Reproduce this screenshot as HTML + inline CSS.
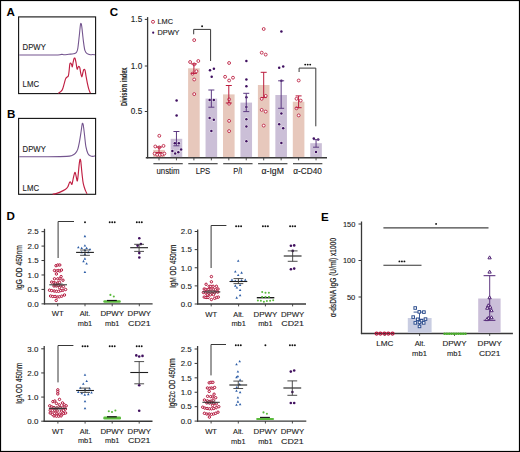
<!DOCTYPE html>
<html><head><meta charset="utf-8"><title>Figure</title>
<style>
html,body{margin:0;padding:0;background:#fff;}
body{width:520px;height:452px;overflow:hidden;}
svg{display:block;font-family:"Liberation Sans", sans-serif;}
</style></head>
<body>
<svg width="520" height="452" viewBox="0 0 520 452">
<rect x="0.5" y="0.5" width="519" height="451" fill="#fff" stroke="#000" stroke-width="1.2"/>
<text x="6.60" y="16.40" font-size="11.6" text-anchor="start" font-weight="bold" fill="#000">A</text>
<text x="6.90" y="118.10" font-size="11.6" text-anchor="start" font-weight="bold" fill="#000">B</text>
<text x="109.80" y="16.10" font-size="11.6" text-anchor="start" font-weight="bold" fill="#000">C</text>
<text x="6.50" y="219.90" font-size="11.6" text-anchor="start" font-weight="bold" fill="#000">D</text>
<text x="321.00" y="220.60" font-size="11.6" text-anchor="start" font-weight="bold" fill="#000">E</text>
<rect x="18.60" y="16.90" width="77.00" height="76.70" fill="none" stroke="#111" stroke-width="1.1"/>
<rect x="18.60" y="118.40" width="77.00" height="75.90" fill="none" stroke="#111" stroke-width="1.1"/>
<path d="M19.20,55.00 C22.67,55.00 33.53,55.00 40.00,55.00 C46.47,55.00 54.37,55.10 58.00,55.00 C61.63,54.90 60.77,54.43 61.80,54.40 C62.83,54.37 63.03,54.82 64.20,54.80 C65.37,54.78 67.27,54.47 68.80,54.30 C70.33,54.13 72.17,54.07 73.40,53.80 C74.63,53.53 75.48,53.50 76.20,52.70 C76.92,51.90 77.20,51.70 77.70,49.00 C78.20,46.30 78.75,40.50 79.20,36.50 C79.65,32.50 80.08,27.15 80.40,25.00 C80.72,22.85 80.87,23.30 81.10,23.60 C81.33,23.90 81.42,23.88 81.80,26.80 C82.18,29.72 82.88,37.18 83.40,41.10 C83.92,45.02 84.27,48.20 84.90,50.30 C85.53,52.40 86.30,52.95 87.20,53.70 C88.10,54.45 89.40,54.67 90.30,54.80 C91.20,54.93 91.82,54.50 92.60,54.50 C93.38,54.50 94.60,54.75 95.00,54.80" fill="none" stroke="#74558f" stroke-width="1.1"/>
<path d="M58.30,93.40 C58.93,92.85 61.15,91.60 62.10,90.10 C63.05,88.60 63.43,86.23 64.00,84.40 C64.57,82.57 65.02,80.30 65.50,79.10 C65.98,77.90 66.43,77.72 66.90,77.20 C67.37,76.68 67.93,77.03 68.30,76.00 C68.67,74.97 68.85,72.93 69.10,71.00 C69.35,69.07 69.53,65.73 69.80,64.40 C70.07,63.07 70.38,62.92 70.70,63.00 C71.02,63.08 71.43,64.27 71.70,64.90 C71.97,65.53 72.07,67.20 72.30,66.80 C72.53,66.40 72.82,63.85 73.10,62.50 C73.38,61.15 73.68,59.40 74.00,58.70 C74.32,58.00 74.67,57.67 75.00,58.30 C75.33,58.93 75.65,60.72 76.00,62.50 C76.35,64.28 76.78,68.13 77.10,69.00 C77.42,69.87 77.62,68.17 77.90,67.70 C78.18,67.23 78.48,66.20 78.80,66.20 C79.12,66.20 79.48,66.57 79.80,67.70 C80.12,68.83 80.35,71.48 80.70,73.00 C81.05,74.52 81.55,76.80 81.90,76.80 C82.25,76.80 82.48,74.20 82.80,73.00 C83.12,71.80 83.43,70.08 83.80,69.60 C84.17,69.12 84.63,69.07 85.00,70.10 C85.37,71.13 85.60,73.58 86.00,75.80 C86.40,78.02 86.93,81.18 87.40,83.40 C87.87,85.62 88.30,87.48 88.80,89.10 C89.30,90.72 90.13,92.43 90.40,93.10" fill="none" stroke="#c01f42" stroke-width="1.15"/>
<path d="M19.20,156.70 C23.50,156.70 37.07,156.75 45.00,156.70 C52.93,156.65 62.32,156.62 66.80,156.40 C71.28,156.18 70.48,155.90 71.90,155.40 C73.32,154.90 74.32,154.45 75.30,153.40 C76.28,152.35 77.10,151.07 77.80,149.10 C78.50,147.13 78.95,144.53 79.50,141.60 C80.05,138.67 80.67,134.33 81.10,131.50 C81.53,128.67 81.83,125.98 82.10,124.60 C82.37,123.22 82.50,123.13 82.70,123.20 C82.90,123.27 83.00,123.07 83.30,125.00 C83.60,126.93 84.07,131.20 84.50,134.80 C84.93,138.40 85.33,143.50 85.90,146.60 C86.47,149.70 87.15,151.85 87.90,153.40 C88.65,154.95 89.57,155.40 90.40,155.90 C91.23,156.40 92.13,156.40 92.90,156.40 C93.67,156.40 94.65,155.98 95.00,155.90" fill="none" stroke="#74558f" stroke-width="1.1"/>
<path d="M52.60,194.30 C53.17,194.18 54.75,193.97 56.00,193.60 C57.25,193.23 58.57,192.78 60.10,192.10 C61.63,191.42 63.93,190.35 65.20,189.50 C66.47,188.65 67.00,188.12 67.70,187.00 C68.40,185.88 68.93,183.63 69.40,182.80 C69.87,181.97 70.08,181.75 70.50,182.00 C70.92,182.25 71.45,184.87 71.90,184.30 C72.35,183.73 72.78,180.38 73.20,178.60 C73.62,176.82 74.05,174.58 74.40,173.60 C74.75,172.62 74.93,171.87 75.30,172.70 C75.67,173.53 76.25,177.25 76.60,178.60 C76.95,179.95 77.12,181.63 77.40,180.80 C77.68,179.97 78.02,176.22 78.30,173.60 C78.58,170.98 78.82,167.43 79.10,165.10 C79.38,162.77 79.72,160.22 80.00,159.60 C80.28,158.98 80.47,159.07 80.80,161.40 C81.13,163.73 81.58,169.88 82.00,173.60 C82.42,177.32 82.73,180.90 83.30,183.70 C83.87,186.50 84.78,188.72 85.40,190.40 C86.02,192.08 86.73,193.23 87.00,193.80" fill="none" stroke="#c01f42" stroke-width="1.15"/>
<text x="22.60" y="49.70" font-size="8.5" text-anchor="start" font-weight="normal" fill="#1c1c1c" stroke="#1c1c1c" stroke-width="0.12" textLength="23.20" lengthAdjust="spacingAndGlyphs">DPWY</text>
<text x="22.60" y="87.40" font-size="8.5" text-anchor="start" font-weight="normal" fill="#1c1c1c" stroke="#1c1c1c" stroke-width="0.12" textLength="16.40" lengthAdjust="spacingAndGlyphs">LMC</text>
<text x="22.60" y="152.00" font-size="8.5" text-anchor="start" font-weight="normal" fill="#1c1c1c" stroke="#1c1c1c" stroke-width="0.12" textLength="23.20" lengthAdjust="spacingAndGlyphs">DPWY</text>
<text x="22.60" y="191.20" font-size="8.5" text-anchor="start" font-weight="normal" fill="#1c1c1c" stroke="#1c1c1c" stroke-width="0.12" textLength="16.40" lengthAdjust="spacingAndGlyphs">LMC</text>
<line x1="147.60" y1="17.10" x2="147.60" y2="158.35" stroke="#383838" stroke-width="1.3"/>
<line x1="144.80" y1="19.40" x2="147.60" y2="19.40" stroke="#383838" stroke-width="1.0"/>
<text x="142.20" y="22.30" font-size="8.2" text-anchor="end" font-weight="normal" fill="#1c1c1c" stroke="#1c1c1c" stroke-width="0.12">1.5</text>
<line x1="144.80" y1="66.00" x2="147.60" y2="66.00" stroke="#383838" stroke-width="1.0"/>
<text x="142.20" y="68.90" font-size="8.2" text-anchor="end" font-weight="normal" fill="#1c1c1c" stroke="#1c1c1c" stroke-width="0.12">1.0</text>
<line x1="144.80" y1="111.50" x2="147.60" y2="111.50" stroke="#383838" stroke-width="1.0"/>
<text x="142.20" y="114.40" font-size="8.2" text-anchor="end" font-weight="normal" fill="#1c1c1c" stroke="#1c1c1c" stroke-width="0.12">0.5</text>
<text x="126.60" y="86.80" font-size="9.3" text-anchor="middle" font-weight="bold" fill="#1c1c1c" stroke="#1c1c1c" stroke-width="0.08" textLength="38.60" lengthAdjust="spacingAndGlyphs" transform="rotate(-90 126.60 86.80)">Division index</text>
<line x1="145.80" y1="157.75" x2="327.00" y2="157.75" stroke="#383838" stroke-width="1.4"/>
<line x1="159.00" y1="157.75" x2="159.00" y2="160.35" stroke="#383838" stroke-width="0.9"/>
<line x1="176.45" y1="157.75" x2="176.45" y2="160.35" stroke="#383838" stroke-width="0.9"/>
<line x1="193.90" y1="157.75" x2="193.90" y2="160.35" stroke="#383838" stroke-width="0.9"/>
<line x1="211.35" y1="157.75" x2="211.35" y2="160.35" stroke="#383838" stroke-width="0.9"/>
<line x1="228.80" y1="157.75" x2="228.80" y2="160.35" stroke="#383838" stroke-width="0.9"/>
<line x1="246.25" y1="157.75" x2="246.25" y2="160.35" stroke="#383838" stroke-width="0.9"/>
<line x1="263.70" y1="157.75" x2="263.70" y2="160.35" stroke="#383838" stroke-width="0.9"/>
<line x1="281.15" y1="157.75" x2="281.15" y2="160.35" stroke="#383838" stroke-width="0.9"/>
<line x1="298.60" y1="157.75" x2="298.60" y2="160.35" stroke="#383838" stroke-width="0.9"/>
<line x1="316.05" y1="157.75" x2="316.05" y2="160.35" stroke="#383838" stroke-width="0.9"/>
<line x1="153.40" y1="163.70" x2="182.75" y2="163.70" stroke="#383838" stroke-width="1.1"/>
<text x="168.03" y="173.60" font-size="8.2" text-anchor="middle" font-weight="normal" fill="#1c1c1c" stroke="#1c1c1c" stroke-width="0.12" textLength="23.00" lengthAdjust="spacingAndGlyphs">unstim</text>
<line x1="188.30" y1="163.70" x2="217.65" y2="163.70" stroke="#383838" stroke-width="1.1"/>
<text x="202.93" y="173.60" font-size="8.2" text-anchor="middle" font-weight="normal" fill="#1c1c1c" stroke="#1c1c1c" stroke-width="0.12" textLength="14.60" lengthAdjust="spacingAndGlyphs">LPS</text>
<line x1="223.20" y1="163.70" x2="252.55" y2="163.70" stroke="#383838" stroke-width="1.1"/>
<text x="237.83" y="173.60" font-size="8.2" text-anchor="middle" font-weight="normal" fill="#1c1c1c" stroke="#1c1c1c" stroke-width="0.12" textLength="9.20" lengthAdjust="spacingAndGlyphs">P/I</text>
<line x1="258.10" y1="163.70" x2="287.45" y2="163.70" stroke="#383838" stroke-width="1.1"/>
<text x="272.72" y="173.60" font-size="8.2" text-anchor="middle" font-weight="normal" fill="#1c1c1c" stroke="#1c1c1c" stroke-width="0.12" textLength="22.40" lengthAdjust="spacingAndGlyphs">&#945;-IgM</text>
<line x1="293.00" y1="163.70" x2="322.35" y2="163.70" stroke="#383838" stroke-width="1.1"/>
<text x="307.62" y="173.60" font-size="8.2" text-anchor="middle" font-weight="normal" fill="#1c1c1c" stroke="#1c1c1c" stroke-width="0.12" textLength="28.60" lengthAdjust="spacingAndGlyphs">&#945;-CD40</text>
<rect x="153.20" y="149.90" width="11.60" height="7.15" fill="#e7c8bc" stroke="none" stroke-width="0"/>
<rect x="170.65" y="138.80" width="11.60" height="18.25" fill="#cbbfd7" stroke="none" stroke-width="0"/>
<rect x="188.10" y="68.30" width="11.60" height="88.75" fill="#e7c8bc" stroke="none" stroke-width="0"/>
<rect x="205.55" y="98.60" width="11.60" height="58.45" fill="#cbbfd7" stroke="none" stroke-width="0"/>
<rect x="223.00" y="94.40" width="11.60" height="62.65" fill="#e7c8bc" stroke="none" stroke-width="0"/>
<rect x="240.45" y="102.60" width="11.60" height="54.45" fill="#cbbfd7" stroke="none" stroke-width="0"/>
<rect x="257.90" y="85.00" width="11.60" height="72.05" fill="#e7c8bc" stroke="none" stroke-width="0"/>
<rect x="275.35" y="95.00" width="11.60" height="62.05" fill="#cbbfd7" stroke="none" stroke-width="0"/>
<rect x="292.80" y="101.70" width="11.60" height="55.35" fill="#e7c8bc" stroke="none" stroke-width="0"/>
<rect x="310.25" y="143.20" width="11.60" height="13.85" fill="#cbbfd7" stroke="none" stroke-width="0"/>
<circle cx="159.30" cy="135.80" r="1.45" fill="#fff" stroke="#bb1a3c" stroke-width="0.85"/>
<circle cx="155.30" cy="146.50" r="1.45" fill="#fff" stroke="#bb1a3c" stroke-width="0.85"/>
<circle cx="159.30" cy="147.40" r="1.45" fill="#fff" stroke="#bb1a3c" stroke-width="0.85"/>
<circle cx="163.50" cy="145.90" r="1.45" fill="#fff" stroke="#bb1a3c" stroke-width="0.85"/>
<circle cx="154.60" cy="153.60" r="1.45" fill="#fff" stroke="#bb1a3c" stroke-width="0.85"/>
<circle cx="157.20" cy="154.70" r="1.45" fill="#fff" stroke="#bb1a3c" stroke-width="0.85"/>
<circle cx="159.80" cy="154.90" r="1.45" fill="#fff" stroke="#bb1a3c" stroke-width="0.85"/>
<circle cx="162.40" cy="154.50" r="1.45" fill="#fff" stroke="#bb1a3c" stroke-width="0.85"/>
<circle cx="164.40" cy="153.60" r="1.45" fill="#fff" stroke="#bb1a3c" stroke-width="0.85"/>
<circle cx="176.60" cy="100.60" r="1.85" fill="#fff" fill-opacity="0.7"/>
<circle cx="176.60" cy="100.60" r="1.25" fill="#3f0f60"/>
<circle cx="176.60" cy="115.40" r="1.85" fill="#fff" fill-opacity="0.7"/>
<circle cx="176.60" cy="115.40" r="1.25" fill="#3f0f60"/>
<circle cx="174.80" cy="143.20" r="1.85" fill="#fff" fill-opacity="0.7"/>
<circle cx="174.80" cy="143.20" r="1.25" fill="#3f0f60"/>
<circle cx="178.80" cy="143.20" r="1.85" fill="#fff" fill-opacity="0.7"/>
<circle cx="178.80" cy="143.20" r="1.25" fill="#3f0f60"/>
<circle cx="172.40" cy="150.90" r="1.85" fill="#fff" fill-opacity="0.7"/>
<circle cx="172.40" cy="150.90" r="1.25" fill="#3f0f60"/>
<circle cx="175.20" cy="153.60" r="1.85" fill="#fff" fill-opacity="0.7"/>
<circle cx="175.20" cy="153.60" r="1.25" fill="#3f0f60"/>
<circle cx="178.30" cy="152.20" r="1.85" fill="#fff" fill-opacity="0.7"/>
<circle cx="178.30" cy="152.20" r="1.25" fill="#3f0f60"/>
<circle cx="181.10" cy="149.60" r="1.85" fill="#fff" fill-opacity="0.7"/>
<circle cx="181.10" cy="149.60" r="1.25" fill="#3f0f60"/>
<circle cx="194.20" cy="40.10" r="1.45" fill="#fff" stroke="#bb1a3c" stroke-width="0.85"/>
<circle cx="190.10" cy="62.00" r="1.45" fill="#fff" stroke="#bb1a3c" stroke-width="0.85"/>
<circle cx="198.30" cy="61.00" r="1.45" fill="#fff" stroke="#bb1a3c" stroke-width="0.85"/>
<circle cx="194.20" cy="64.40" r="1.45" fill="#fff" stroke="#bb1a3c" stroke-width="0.85"/>
<circle cx="196.40" cy="71.20" r="1.45" fill="#fff" stroke="#bb1a3c" stroke-width="0.85"/>
<circle cx="192.50" cy="73.70" r="1.45" fill="#fff" stroke="#bb1a3c" stroke-width="0.85"/>
<circle cx="194.20" cy="79.50" r="1.45" fill="#fff" stroke="#bb1a3c" stroke-width="0.85"/>
<circle cx="194.20" cy="94.10" r="1.45" fill="#fff" stroke="#bb1a3c" stroke-width="0.85"/>
<circle cx="210.00" cy="70.20" r="1.85" fill="#fff" fill-opacity="0.7"/>
<circle cx="210.00" cy="70.20" r="1.25" fill="#3f0f60"/>
<circle cx="213.90" cy="68.70" r="1.85" fill="#fff" fill-opacity="0.7"/>
<circle cx="213.90" cy="68.70" r="1.25" fill="#3f0f60"/>
<circle cx="211.70" cy="76.80" r="1.85" fill="#fff" fill-opacity="0.7"/>
<circle cx="211.70" cy="76.80" r="1.25" fill="#3f0f60"/>
<circle cx="209.60" cy="99.90" r="1.85" fill="#fff" fill-opacity="0.7"/>
<circle cx="209.60" cy="99.90" r="1.25" fill="#3f0f60"/>
<circle cx="213.80" cy="99.90" r="1.85" fill="#fff" fill-opacity="0.7"/>
<circle cx="213.80" cy="99.90" r="1.25" fill="#3f0f60"/>
<circle cx="209.60" cy="118.00" r="1.85" fill="#fff" fill-opacity="0.7"/>
<circle cx="209.60" cy="118.00" r="1.25" fill="#3f0f60"/>
<circle cx="213.80" cy="119.80" r="1.85" fill="#fff" fill-opacity="0.7"/>
<circle cx="213.80" cy="119.80" r="1.25" fill="#3f0f60"/>
<circle cx="211.40" cy="131.10" r="1.85" fill="#fff" fill-opacity="0.7"/>
<circle cx="211.40" cy="131.10" r="1.25" fill="#3f0f60"/>
<circle cx="229.10" cy="63.00" r="1.45" fill="#fff" stroke="#bb1a3c" stroke-width="0.85"/>
<circle cx="225.10" cy="76.80" r="1.45" fill="#fff" stroke="#bb1a3c" stroke-width="0.85"/>
<circle cx="233.00" cy="77.70" r="1.45" fill="#fff" stroke="#bb1a3c" stroke-width="0.85"/>
<circle cx="229.10" cy="80.50" r="1.45" fill="#fff" stroke="#bb1a3c" stroke-width="0.85"/>
<circle cx="229.10" cy="99.40" r="1.45" fill="#fff" stroke="#bb1a3c" stroke-width="0.85"/>
<circle cx="229.10" cy="103.70" r="1.45" fill="#fff" stroke="#bb1a3c" stroke-width="0.85"/>
<circle cx="229.10" cy="120.90" r="1.45" fill="#fff" stroke="#bb1a3c" stroke-width="0.85"/>
<circle cx="229.10" cy="131.10" r="1.45" fill="#fff" stroke="#bb1a3c" stroke-width="0.85"/>
<circle cx="246.40" cy="61.10" r="1.85" fill="#fff" fill-opacity="0.7"/>
<circle cx="246.40" cy="61.10" r="1.25" fill="#3f0f60"/>
<circle cx="246.40" cy="79.60" r="1.85" fill="#fff" fill-opacity="0.7"/>
<circle cx="246.40" cy="79.60" r="1.25" fill="#3f0f60"/>
<circle cx="246.40" cy="86.30" r="1.85" fill="#fff" fill-opacity="0.7"/>
<circle cx="246.40" cy="86.30" r="1.25" fill="#3f0f60"/>
<circle cx="246.40" cy="97.30" r="1.85" fill="#fff" fill-opacity="0.7"/>
<circle cx="246.40" cy="97.30" r="1.25" fill="#3f0f60"/>
<circle cx="246.40" cy="107.00" r="1.85" fill="#fff" fill-opacity="0.7"/>
<circle cx="246.40" cy="107.00" r="1.25" fill="#3f0f60"/>
<circle cx="246.40" cy="119.20" r="1.85" fill="#fff" fill-opacity="0.7"/>
<circle cx="246.40" cy="119.20" r="1.25" fill="#3f0f60"/>
<circle cx="246.40" cy="126.50" r="1.85" fill="#fff" fill-opacity="0.7"/>
<circle cx="246.40" cy="126.50" r="1.25" fill="#3f0f60"/>
<circle cx="246.40" cy="141.30" r="1.85" fill="#fff" fill-opacity="0.7"/>
<circle cx="246.40" cy="141.30" r="1.25" fill="#3f0f60"/>
<circle cx="263.70" cy="29.00" r="1.45" fill="#fff" stroke="#bb1a3c" stroke-width="0.85"/>
<circle cx="261.70" cy="52.70" r="1.45" fill="#fff" stroke="#bb1a3c" stroke-width="0.85"/>
<circle cx="265.70" cy="54.60" r="1.45" fill="#fff" stroke="#bb1a3c" stroke-width="0.85"/>
<circle cx="265.70" cy="95.90" r="1.45" fill="#fff" stroke="#bb1a3c" stroke-width="0.85"/>
<circle cx="261.70" cy="98.80" r="1.45" fill="#fff" stroke="#bb1a3c" stroke-width="0.85"/>
<circle cx="261.70" cy="109.90" r="1.45" fill="#fff" stroke="#bb1a3c" stroke-width="0.85"/>
<circle cx="265.70" cy="111.60" r="1.45" fill="#fff" stroke="#bb1a3c" stroke-width="0.85"/>
<circle cx="263.70" cy="125.60" r="1.45" fill="#fff" stroke="#bb1a3c" stroke-width="0.85"/>
<circle cx="281.40" cy="31.40" r="1.85" fill="#fff" fill-opacity="0.7"/>
<circle cx="281.40" cy="31.40" r="1.25" fill="#3f0f60"/>
<circle cx="279.20" cy="67.70" r="1.85" fill="#fff" fill-opacity="0.7"/>
<circle cx="279.20" cy="67.70" r="1.25" fill="#3f0f60"/>
<circle cx="283.20" cy="66.40" r="1.85" fill="#fff" fill-opacity="0.7"/>
<circle cx="283.20" cy="66.40" r="1.25" fill="#3f0f60"/>
<circle cx="281.40" cy="80.80" r="1.85" fill="#fff" fill-opacity="0.7"/>
<circle cx="281.40" cy="80.80" r="1.25" fill="#3f0f60"/>
<circle cx="281.40" cy="113.60" r="1.85" fill="#fff" fill-opacity="0.7"/>
<circle cx="281.40" cy="113.60" r="1.25" fill="#3f0f60"/>
<circle cx="279.20" cy="124.20" r="1.85" fill="#fff" fill-opacity="0.7"/>
<circle cx="279.20" cy="124.20" r="1.25" fill="#3f0f60"/>
<circle cx="283.20" cy="128.20" r="1.85" fill="#fff" fill-opacity="0.7"/>
<circle cx="283.20" cy="128.20" r="1.25" fill="#3f0f60"/>
<circle cx="281.40" cy="143.00" r="1.85" fill="#fff" fill-opacity="0.7"/>
<circle cx="281.40" cy="143.00" r="1.25" fill="#3f0f60"/>
<circle cx="298.70" cy="80.50" r="1.45" fill="#fff" stroke="#bb1a3c" stroke-width="0.85"/>
<circle cx="296.50" cy="98.80" r="1.45" fill="#fff" stroke="#bb1a3c" stroke-width="0.85"/>
<circle cx="300.70" cy="100.60" r="1.45" fill="#fff" stroke="#bb1a3c" stroke-width="0.85"/>
<circle cx="296.50" cy="108.30" r="1.45" fill="#fff" stroke="#bb1a3c" stroke-width="0.85"/>
<circle cx="298.70" cy="115.40" r="1.45" fill="#fff" stroke="#bb1a3c" stroke-width="0.85"/>
<circle cx="313.80" cy="138.60" r="1.85" fill="#fff" fill-opacity="0.7"/>
<circle cx="313.80" cy="138.60" r="1.25" fill="#3f0f60"/>
<circle cx="318.20" cy="139.40" r="1.85" fill="#fff" fill-opacity="0.7"/>
<circle cx="318.20" cy="139.40" r="1.25" fill="#3f0f60"/>
<circle cx="316.00" cy="152.10" r="1.85" fill="#fff" fill-opacity="0.7"/>
<circle cx="316.00" cy="152.10" r="1.25" fill="#3f0f60"/>
<line x1="159.00" y1="147.00" x2="159.00" y2="152.60" stroke="#bb1a3c" stroke-width="1.0"/>
<line x1="156.00" y1="147.00" x2="162.00" y2="147.00" stroke="#bb1a3c" stroke-width="1.0"/>
<line x1="156.00" y1="152.60" x2="162.00" y2="152.60" stroke="#bb1a3c" stroke-width="1.0"/>
<line x1="176.45" y1="131.50" x2="176.45" y2="145.80" stroke="#5d3a82" stroke-width="1.0"/>
<line x1="173.45" y1="131.50" x2="179.45" y2="131.50" stroke="#5d3a82" stroke-width="1.0"/>
<line x1="173.45" y1="145.80" x2="179.45" y2="145.80" stroke="#5d3a82" stroke-width="1.0"/>
<line x1="193.90" y1="63.90" x2="193.90" y2="73.40" stroke="#bb1a3c" stroke-width="1.0"/>
<line x1="190.90" y1="63.90" x2="196.90" y2="63.90" stroke="#bb1a3c" stroke-width="1.0"/>
<line x1="190.90" y1="73.40" x2="196.90" y2="73.40" stroke="#bb1a3c" stroke-width="1.0"/>
<line x1="211.35" y1="90.00" x2="211.35" y2="107.20" stroke="#5d3a82" stroke-width="1.0"/>
<line x1="208.35" y1="90.00" x2="214.35" y2="90.00" stroke="#5d3a82" stroke-width="1.0"/>
<line x1="208.35" y1="107.20" x2="214.35" y2="107.20" stroke="#5d3a82" stroke-width="1.0"/>
<line x1="228.80" y1="85.50" x2="228.80" y2="103.00" stroke="#bb1a3c" stroke-width="1.0"/>
<line x1="225.80" y1="85.50" x2="231.80" y2="85.50" stroke="#bb1a3c" stroke-width="1.0"/>
<line x1="225.80" y1="103.00" x2="231.80" y2="103.00" stroke="#bb1a3c" stroke-width="1.0"/>
<line x1="246.25" y1="93.30" x2="246.25" y2="111.60" stroke="#5d3a82" stroke-width="1.0"/>
<line x1="243.25" y1="93.30" x2="249.25" y2="93.30" stroke="#5d3a82" stroke-width="1.0"/>
<line x1="243.25" y1="111.60" x2="249.25" y2="111.60" stroke="#5d3a82" stroke-width="1.0"/>
<line x1="263.70" y1="72.30" x2="263.70" y2="97.60" stroke="#bb1a3c" stroke-width="1.0"/>
<line x1="260.70" y1="72.30" x2="266.70" y2="72.30" stroke="#bb1a3c" stroke-width="1.0"/>
<line x1="260.70" y1="97.60" x2="266.70" y2="97.60" stroke="#bb1a3c" stroke-width="1.0"/>
<line x1="281.15" y1="80.80" x2="281.15" y2="108.30" stroke="#5d3a82" stroke-width="1.0"/>
<line x1="278.15" y1="80.80" x2="284.15" y2="80.80" stroke="#5d3a82" stroke-width="1.0"/>
<line x1="278.15" y1="108.30" x2="284.15" y2="108.30" stroke="#5d3a82" stroke-width="1.0"/>
<line x1="298.60" y1="95.90" x2="298.60" y2="107.70" stroke="#bb1a3c" stroke-width="1.0"/>
<line x1="295.60" y1="95.90" x2="301.60" y2="95.90" stroke="#bb1a3c" stroke-width="1.0"/>
<line x1="295.60" y1="107.70" x2="301.60" y2="107.70" stroke="#bb1a3c" stroke-width="1.0"/>
<line x1="316.05" y1="139.60" x2="316.05" y2="147.20" stroke="#5d3a82" stroke-width="1.0"/>
<line x1="313.05" y1="139.60" x2="319.05" y2="139.60" stroke="#5d3a82" stroke-width="1.0"/>
<line x1="313.05" y1="147.20" x2="319.05" y2="147.20" stroke="#5d3a82" stroke-width="1.0"/>
<circle cx="153.00" cy="21.80" r="1.5" fill="#fff" stroke="#bb1a3c" stroke-width="0.85"/>
<text x="157.50" y="23.90" font-size="7.5" text-anchor="start" font-weight="normal" fill="#1c1c1c" stroke="#1c1c1c" stroke-width="0.12" textLength="15.60" lengthAdjust="spacingAndGlyphs">LMC</text>
<circle cx="153.20" cy="32.70" r="1.1" fill="#3f0f60"/>
<text x="157.50" y="35.00" font-size="7.5" text-anchor="start" font-weight="normal" fill="#1c1c1c" stroke="#1c1c1c" stroke-width="0.12" textLength="22.00" lengthAdjust="spacingAndGlyphs">DPWY</text>
<polyline points="193.7,34.3 193.7,29.4 210.6,29.4 210.6,61.0" fill="none" stroke="#383838" stroke-width="1.0"/>
<circle cx="202.10" cy="26.20" r="0.95" fill="#111"/>
<polyline points="299.1,72.0 299.1,68.1 315.8,68.1 315.8,126.3" fill="none" stroke="#383838" stroke-width="1.0"/>
<circle cx="305.20" cy="64.60" r="0.95" fill="#111"/>
<circle cx="307.70" cy="64.60" r="0.95" fill="#111"/>
<circle cx="310.20" cy="64.60" r="0.95" fill="#111"/>
<line x1="44.50" y1="228.80" x2="44.50" y2="304.45" stroke="#383838" stroke-width="1.3"/>
<line x1="43.90" y1="303.85" x2="152.60" y2="303.85" stroke="#383838" stroke-width="1.4"/>
<line x1="41.50" y1="303.85" x2="44.50" y2="303.85" stroke="#383838" stroke-width="1.0"/>
<text x="38.60" y="306.65" font-size="8.0" text-anchor="end" font-weight="normal" fill="#1c1c1c" stroke="#1c1c1c" stroke-width="0.12" textLength="11.00" lengthAdjust="spacingAndGlyphs">0.0</text>
<line x1="41.50" y1="289.41" x2="44.50" y2="289.41" stroke="#383838" stroke-width="1.0"/>
<text x="38.60" y="292.21" font-size="8.0" text-anchor="end" font-weight="normal" fill="#1c1c1c" stroke="#1c1c1c" stroke-width="0.12" textLength="11.00" lengthAdjust="spacingAndGlyphs">0.5</text>
<line x1="41.50" y1="274.97" x2="44.50" y2="274.97" stroke="#383838" stroke-width="1.0"/>
<text x="38.60" y="277.77" font-size="8.0" text-anchor="end" font-weight="normal" fill="#1c1c1c" stroke="#1c1c1c" stroke-width="0.12" textLength="11.00" lengthAdjust="spacingAndGlyphs">1.0</text>
<line x1="41.50" y1="260.53" x2="44.50" y2="260.53" stroke="#383838" stroke-width="1.0"/>
<text x="38.60" y="263.33" font-size="8.0" text-anchor="end" font-weight="normal" fill="#1c1c1c" stroke="#1c1c1c" stroke-width="0.12" textLength="11.00" lengthAdjust="spacingAndGlyphs">1.5</text>
<line x1="41.50" y1="246.09" x2="44.50" y2="246.09" stroke="#383838" stroke-width="1.0"/>
<text x="38.60" y="248.89" font-size="8.0" text-anchor="end" font-weight="normal" fill="#1c1c1c" stroke="#1c1c1c" stroke-width="0.12" textLength="11.00" lengthAdjust="spacingAndGlyphs">2.0</text>
<line x1="41.50" y1="231.65" x2="44.50" y2="231.65" stroke="#383838" stroke-width="1.0"/>
<text x="38.60" y="234.45" font-size="8.0" text-anchor="end" font-weight="normal" fill="#1c1c1c" stroke="#1c1c1c" stroke-width="0.12" textLength="11.00" lengthAdjust="spacingAndGlyphs">2.5</text>
<line x1="57.70" y1="303.85" x2="57.70" y2="306.25" stroke="#383838" stroke-width="0.9"/>
<line x1="85.00" y1="303.85" x2="85.00" y2="306.25" stroke="#383838" stroke-width="0.9"/>
<line x1="112.20" y1="303.85" x2="112.20" y2="306.25" stroke="#383838" stroke-width="0.9"/>
<line x1="139.30" y1="303.85" x2="139.30" y2="306.25" stroke="#383838" stroke-width="0.9"/>
<text x="22.30" y="267.55" font-size="9.2" text-anchor="middle" fill="#1c1c1c" stroke="#1c1c1c" stroke-width="0.2" transform="rotate(-90 22.30 267.55)" textLength="44.50" lengthAdjust="spacingAndGlyphs">IgG OD 450<tspan>nm</tspan></text>
<polyline points="58.10,258.00 58.10,221.50 74.00,221.50" fill="none" stroke="#383838" stroke-width="1.0"/>
<circle cx="85.00" cy="222.20" r="0.95" fill="#111"/>
<circle cx="109.70" cy="222.20" r="0.95" fill="#111"/>
<circle cx="112.20" cy="222.20" r="0.95" fill="#111"/>
<circle cx="114.70" cy="222.20" r="0.95" fill="#111"/>
<circle cx="136.80" cy="222.20" r="0.95" fill="#111"/>
<circle cx="139.30" cy="222.20" r="0.95" fill="#111"/>
<circle cx="141.80" cy="222.20" r="0.95" fill="#111"/>
<text x="57.70" y="316.30" font-size="8.0" text-anchor="middle" font-weight="normal" fill="#1c1c1c" stroke="#1c1c1c" stroke-width="0.12" textLength="11.90" lengthAdjust="spacingAndGlyphs">WT</text>
<text x="85.00" y="316.30" font-size="8.0" text-anchor="middle" font-weight="normal" fill="#1c1c1c" stroke="#1c1c1c" stroke-width="0.12" textLength="10.60" lengthAdjust="spacingAndGlyphs">Alt.</text>
<text x="85.00" y="326.40" font-size="8.0" text-anchor="middle" font-weight="normal" fill="#1c1c1c" stroke="#1c1c1c" stroke-width="0.12" textLength="14.40" lengthAdjust="spacingAndGlyphs">mb1</text>
<text x="112.20" y="316.30" font-size="8.0" text-anchor="middle" font-weight="normal" fill="#1c1c1c" stroke="#1c1c1c" stroke-width="0.12" textLength="23.60" lengthAdjust="spacingAndGlyphs">DPWY</text>
<text x="112.20" y="326.40" font-size="8.0" text-anchor="middle" font-weight="normal" fill="#1c1c1c" stroke="#1c1c1c" stroke-width="0.12" textLength="14.40" lengthAdjust="spacingAndGlyphs">mb1</text>
<text x="139.30" y="316.30" font-size="8.0" text-anchor="middle" font-weight="normal" fill="#1c1c1c" stroke="#1c1c1c" stroke-width="0.12" textLength="23.40" lengthAdjust="spacingAndGlyphs">DPWY</text>
<text x="139.30" y="326.40" font-size="8.0" text-anchor="middle" font-weight="normal" fill="#1c1c1c" stroke="#1c1c1c" stroke-width="0.12" textLength="22.60" lengthAdjust="spacingAndGlyphs">CD21</text>
<line x1="197.70" y1="229.50" x2="197.70" y2="304.60" stroke="#383838" stroke-width="1.3"/>
<line x1="197.10" y1="304.00" x2="306.00" y2="304.00" stroke="#383838" stroke-width="1.4"/>
<line x1="194.70" y1="304.00" x2="197.70" y2="304.00" stroke="#383838" stroke-width="1.0"/>
<text x="191.80" y="306.80" font-size="8.0" text-anchor="end" font-weight="normal" fill="#1c1c1c" stroke="#1c1c1c" stroke-width="0.12" textLength="11.00" lengthAdjust="spacingAndGlyphs">0.0</text>
<line x1="194.70" y1="285.88" x2="197.70" y2="285.88" stroke="#383838" stroke-width="1.0"/>
<text x="191.80" y="288.68" font-size="8.0" text-anchor="end" font-weight="normal" fill="#1c1c1c" stroke="#1c1c1c" stroke-width="0.12" textLength="11.00" lengthAdjust="spacingAndGlyphs">0.5</text>
<line x1="194.70" y1="267.75" x2="197.70" y2="267.75" stroke="#383838" stroke-width="1.0"/>
<text x="191.80" y="270.55" font-size="8.0" text-anchor="end" font-weight="normal" fill="#1c1c1c" stroke="#1c1c1c" stroke-width="0.12" textLength="11.00" lengthAdjust="spacingAndGlyphs">1.0</text>
<line x1="194.70" y1="249.62" x2="197.70" y2="249.62" stroke="#383838" stroke-width="1.0"/>
<text x="191.80" y="252.43" font-size="8.0" text-anchor="end" font-weight="normal" fill="#1c1c1c" stroke="#1c1c1c" stroke-width="0.12" textLength="11.00" lengthAdjust="spacingAndGlyphs">1.5</text>
<line x1="194.70" y1="231.50" x2="197.70" y2="231.50" stroke="#383838" stroke-width="1.0"/>
<text x="191.80" y="234.30" font-size="8.0" text-anchor="end" font-weight="normal" fill="#1c1c1c" stroke="#1c1c1c" stroke-width="0.12" textLength="11.00" lengthAdjust="spacingAndGlyphs">2.0</text>
<line x1="211.20" y1="304.00" x2="211.20" y2="306.40" stroke="#383838" stroke-width="0.9"/>
<line x1="238.60" y1="304.00" x2="238.60" y2="306.40" stroke="#383838" stroke-width="0.9"/>
<line x1="265.40" y1="304.00" x2="265.40" y2="306.40" stroke="#383838" stroke-width="0.9"/>
<line x1="292.60" y1="304.00" x2="292.60" y2="306.40" stroke="#383838" stroke-width="0.9"/>
<text x="175.70" y="266.20" font-size="9.2" text-anchor="middle" fill="#1c1c1c" stroke="#1c1c1c" stroke-width="0.2" transform="rotate(-90 175.70 266.20)" textLength="43.20" lengthAdjust="spacingAndGlyphs">IgM OD 450<tspan>nm</tspan></text>
<polyline points="211.10,268.00 211.10,225.50 226.40,225.50" fill="none" stroke="#383838" stroke-width="1.0"/>
<circle cx="236.10" cy="226.20" r="0.95" fill="#111"/>
<circle cx="238.60" cy="226.20" r="0.95" fill="#111"/>
<circle cx="241.10" cy="226.20" r="0.95" fill="#111"/>
<circle cx="262.90" cy="226.20" r="0.95" fill="#111"/>
<circle cx="265.40" cy="226.20" r="0.95" fill="#111"/>
<circle cx="267.90" cy="226.20" r="0.95" fill="#111"/>
<circle cx="290.10" cy="226.20" r="0.95" fill="#111"/>
<circle cx="292.60" cy="226.20" r="0.95" fill="#111"/>
<circle cx="295.10" cy="226.20" r="0.95" fill="#111"/>
<text x="211.20" y="316.60" font-size="8.0" text-anchor="middle" font-weight="normal" fill="#1c1c1c" stroke="#1c1c1c" stroke-width="0.12" textLength="11.90" lengthAdjust="spacingAndGlyphs">WT</text>
<text x="238.60" y="316.60" font-size="8.0" text-anchor="middle" font-weight="normal" fill="#1c1c1c" stroke="#1c1c1c" stroke-width="0.12" textLength="10.60" lengthAdjust="spacingAndGlyphs">Alt.</text>
<text x="238.60" y="326.40" font-size="8.0" text-anchor="middle" font-weight="normal" fill="#1c1c1c" stroke="#1c1c1c" stroke-width="0.12" textLength="14.40" lengthAdjust="spacingAndGlyphs">mb1</text>
<text x="265.40" y="316.60" font-size="8.0" text-anchor="middle" font-weight="normal" fill="#1c1c1c" stroke="#1c1c1c" stroke-width="0.12" textLength="23.60" lengthAdjust="spacingAndGlyphs">DPWY</text>
<text x="265.40" y="326.40" font-size="8.0" text-anchor="middle" font-weight="normal" fill="#1c1c1c" stroke="#1c1c1c" stroke-width="0.12" textLength="14.40" lengthAdjust="spacingAndGlyphs">mb1</text>
<text x="292.60" y="316.60" font-size="8.0" text-anchor="middle" font-weight="normal" fill="#1c1c1c" stroke="#1c1c1c" stroke-width="0.12" textLength="23.40" lengthAdjust="spacingAndGlyphs">DPWY</text>
<text x="292.60" y="326.40" font-size="8.0" text-anchor="middle" font-weight="normal" fill="#1c1c1c" stroke="#1c1c1c" stroke-width="0.12" textLength="22.60" lengthAdjust="spacingAndGlyphs">CD21</text>
<line x1="44.20" y1="345.90" x2="44.20" y2="421.80" stroke="#383838" stroke-width="1.3"/>
<line x1="43.60" y1="421.20" x2="152.50" y2="421.20" stroke="#383838" stroke-width="1.4"/>
<line x1="41.20" y1="421.20" x2="44.20" y2="421.20" stroke="#383838" stroke-width="1.0"/>
<text x="38.30" y="424.00" font-size="8.0" text-anchor="end" font-weight="normal" fill="#1c1c1c" stroke="#1c1c1c" stroke-width="0.12" textLength="11.00" lengthAdjust="spacingAndGlyphs">0.0</text>
<line x1="41.20" y1="397.07" x2="44.20" y2="397.07" stroke="#383838" stroke-width="1.0"/>
<text x="38.30" y="399.87" font-size="8.0" text-anchor="end" font-weight="normal" fill="#1c1c1c" stroke="#1c1c1c" stroke-width="0.12" textLength="11.00" lengthAdjust="spacingAndGlyphs">1.0</text>
<line x1="41.20" y1="372.94" x2="44.20" y2="372.94" stroke="#383838" stroke-width="1.0"/>
<text x="38.30" y="375.74" font-size="8.0" text-anchor="end" font-weight="normal" fill="#1c1c1c" stroke="#1c1c1c" stroke-width="0.12" textLength="11.00" lengthAdjust="spacingAndGlyphs">2.0</text>
<line x1="41.20" y1="348.81" x2="44.20" y2="348.81" stroke="#383838" stroke-width="1.0"/>
<text x="38.30" y="351.61" font-size="8.0" text-anchor="end" font-weight="normal" fill="#1c1c1c" stroke="#1c1c1c" stroke-width="0.12" textLength="11.00" lengthAdjust="spacingAndGlyphs">3.0</text>
<line x1="57.90" y1="421.20" x2="57.90" y2="423.60" stroke="#383838" stroke-width="0.9"/>
<line x1="85.10" y1="421.20" x2="85.10" y2="423.60" stroke="#383838" stroke-width="0.9"/>
<line x1="112.20" y1="421.20" x2="112.20" y2="423.60" stroke="#383838" stroke-width="0.9"/>
<line x1="139.20" y1="421.20" x2="139.20" y2="423.60" stroke="#383838" stroke-width="0.9"/>
<text x="22.00" y="383.30" font-size="9.2" text-anchor="middle" fill="#1c1c1c" stroke="#1c1c1c" stroke-width="0.2" transform="rotate(-90 22.00 383.30)" textLength="41.00" lengthAdjust="spacingAndGlyphs">IgA OD 450<tspan>nm</tspan></text>
<polyline points="58.00,382.40 58.00,345.50 73.40,345.50" fill="none" stroke="#383838" stroke-width="1.0"/>
<circle cx="82.60" cy="346.20" r="0.95" fill="#111"/>
<circle cx="85.10" cy="346.20" r="0.95" fill="#111"/>
<circle cx="87.60" cy="346.20" r="0.95" fill="#111"/>
<circle cx="109.70" cy="346.20" r="0.95" fill="#111"/>
<circle cx="112.20" cy="346.20" r="0.95" fill="#111"/>
<circle cx="114.70" cy="346.20" r="0.95" fill="#111"/>
<circle cx="136.70" cy="346.20" r="0.95" fill="#111"/>
<circle cx="139.20" cy="346.20" r="0.95" fill="#111"/>
<circle cx="141.70" cy="346.20" r="0.95" fill="#111"/>
<text x="57.90" y="433.60" font-size="8.0" text-anchor="middle" font-weight="normal" fill="#1c1c1c" stroke="#1c1c1c" stroke-width="0.12" textLength="11.90" lengthAdjust="spacingAndGlyphs">WT</text>
<text x="85.10" y="433.60" font-size="8.0" text-anchor="middle" font-weight="normal" fill="#1c1c1c" stroke="#1c1c1c" stroke-width="0.12" textLength="10.60" lengthAdjust="spacingAndGlyphs">Alt.</text>
<text x="85.10" y="442.90" font-size="8.0" text-anchor="middle" font-weight="normal" fill="#1c1c1c" stroke="#1c1c1c" stroke-width="0.12" textLength="14.40" lengthAdjust="spacingAndGlyphs">mb1</text>
<text x="112.20" y="433.60" font-size="8.0" text-anchor="middle" font-weight="normal" fill="#1c1c1c" stroke="#1c1c1c" stroke-width="0.12" textLength="23.60" lengthAdjust="spacingAndGlyphs">DPWY</text>
<text x="112.20" y="442.90" font-size="8.0" text-anchor="middle" font-weight="normal" fill="#1c1c1c" stroke="#1c1c1c" stroke-width="0.12" textLength="14.40" lengthAdjust="spacingAndGlyphs">mb1</text>
<text x="139.20" y="433.60" font-size="8.0" text-anchor="middle" font-weight="normal" fill="#1c1c1c" stroke="#1c1c1c" stroke-width="0.12" textLength="23.40" lengthAdjust="spacingAndGlyphs">DPWY</text>
<text x="139.20" y="442.90" font-size="8.0" text-anchor="middle" font-weight="normal" fill="#1c1c1c" stroke="#1c1c1c" stroke-width="0.12" textLength="22.60" lengthAdjust="spacingAndGlyphs">CD21</text>
<line x1="197.60" y1="346.00" x2="197.60" y2="421.70" stroke="#383838" stroke-width="1.3"/>
<line x1="197.00" y1="421.10" x2="306.30" y2="421.10" stroke="#383838" stroke-width="1.4"/>
<line x1="194.60" y1="421.10" x2="197.60" y2="421.10" stroke="#383838" stroke-width="1.0"/>
<text x="191.70" y="423.90" font-size="8.0" text-anchor="end" font-weight="normal" fill="#1c1c1c" stroke="#1c1c1c" stroke-width="0.12" textLength="11.00" lengthAdjust="spacingAndGlyphs">0.0</text>
<line x1="194.60" y1="406.68" x2="197.60" y2="406.68" stroke="#383838" stroke-width="1.0"/>
<text x="191.70" y="409.48" font-size="8.0" text-anchor="end" font-weight="normal" fill="#1c1c1c" stroke="#1c1c1c" stroke-width="0.12" textLength="11.00" lengthAdjust="spacingAndGlyphs">0.5</text>
<line x1="194.60" y1="392.26" x2="197.60" y2="392.26" stroke="#383838" stroke-width="1.0"/>
<text x="191.70" y="395.06" font-size="8.0" text-anchor="end" font-weight="normal" fill="#1c1c1c" stroke="#1c1c1c" stroke-width="0.12" textLength="11.00" lengthAdjust="spacingAndGlyphs">1.0</text>
<line x1="194.60" y1="377.84" x2="197.60" y2="377.84" stroke="#383838" stroke-width="1.0"/>
<text x="191.70" y="380.64" font-size="8.0" text-anchor="end" font-weight="normal" fill="#1c1c1c" stroke="#1c1c1c" stroke-width="0.12" textLength="11.00" lengthAdjust="spacingAndGlyphs">1.5</text>
<line x1="194.60" y1="363.42" x2="197.60" y2="363.42" stroke="#383838" stroke-width="1.0"/>
<text x="191.70" y="366.22" font-size="8.0" text-anchor="end" font-weight="normal" fill="#1c1c1c" stroke="#1c1c1c" stroke-width="0.12" textLength="11.00" lengthAdjust="spacingAndGlyphs">2.0</text>
<line x1="194.60" y1="349.00" x2="197.60" y2="349.00" stroke="#383838" stroke-width="1.0"/>
<text x="191.70" y="351.80" font-size="8.0" text-anchor="end" font-weight="normal" fill="#1c1c1c" stroke="#1c1c1c" stroke-width="0.12" textLength="11.00" lengthAdjust="spacingAndGlyphs">2.5</text>
<line x1="211.10" y1="421.10" x2="211.10" y2="423.50" stroke="#383838" stroke-width="0.9"/>
<line x1="238.30" y1="421.10" x2="238.30" y2="423.50" stroke="#383838" stroke-width="0.9"/>
<line x1="265.40" y1="421.10" x2="265.40" y2="423.50" stroke="#383838" stroke-width="0.9"/>
<line x1="292.40" y1="421.10" x2="292.40" y2="423.50" stroke="#383838" stroke-width="0.9"/>
<text x="175.30" y="383.30" font-size="9.2" text-anchor="middle" fill="#1c1c1c" stroke="#1c1c1c" stroke-width="0.2" transform="rotate(-90 175.30 383.30)" textLength="49.60" lengthAdjust="spacingAndGlyphs">IgG2c OD 450<tspan>nm</tspan></text>
<polyline points="211.00,375.40 211.00,344.50 226.00,344.50" fill="none" stroke="#383838" stroke-width="1.0"/>
<circle cx="235.80" cy="345.20" r="0.95" fill="#111"/>
<circle cx="238.30" cy="345.20" r="0.95" fill="#111"/>
<circle cx="240.80" cy="345.20" r="0.95" fill="#111"/>
<circle cx="265.40" cy="345.20" r="0.95" fill="#111"/>
<circle cx="289.90" cy="345.20" r="0.95" fill="#111"/>
<circle cx="292.40" cy="345.20" r="0.95" fill="#111"/>
<circle cx="294.90" cy="345.20" r="0.95" fill="#111"/>
<text x="211.10" y="433.70" font-size="8.0" text-anchor="middle" font-weight="normal" fill="#1c1c1c" stroke="#1c1c1c" stroke-width="0.12" textLength="11.90" lengthAdjust="spacingAndGlyphs">WT</text>
<text x="238.30" y="433.70" font-size="8.0" text-anchor="middle" font-weight="normal" fill="#1c1c1c" stroke="#1c1c1c" stroke-width="0.12" textLength="10.60" lengthAdjust="spacingAndGlyphs">Alt.</text>
<text x="238.30" y="443.60" font-size="8.0" text-anchor="middle" font-weight="normal" fill="#1c1c1c" stroke="#1c1c1c" stroke-width="0.12" textLength="14.40" lengthAdjust="spacingAndGlyphs">mb1</text>
<text x="265.40" y="433.70" font-size="8.0" text-anchor="middle" font-weight="normal" fill="#1c1c1c" stroke="#1c1c1c" stroke-width="0.12" textLength="23.60" lengthAdjust="spacingAndGlyphs">DPWY</text>
<text x="265.40" y="443.60" font-size="8.0" text-anchor="middle" font-weight="normal" fill="#1c1c1c" stroke="#1c1c1c" stroke-width="0.12" textLength="14.40" lengthAdjust="spacingAndGlyphs">mb1</text>
<text x="292.40" y="433.70" font-size="8.0" text-anchor="middle" font-weight="normal" fill="#1c1c1c" stroke="#1c1c1c" stroke-width="0.12" textLength="23.40" lengthAdjust="spacingAndGlyphs">DPWY</text>
<text x="292.40" y="443.60" font-size="8.0" text-anchor="middle" font-weight="normal" fill="#1c1c1c" stroke="#1c1c1c" stroke-width="0.12" textLength="22.60" lengthAdjust="spacingAndGlyphs">CD21</text>
<circle cx="56.00" cy="265.70" r="1.2" fill="#fff" stroke="#b3133a" stroke-width="1.0"/>
<circle cx="57.80" cy="265.00" r="1.2" fill="#fff" stroke="#b3133a" stroke-width="1.0"/>
<circle cx="59.80" cy="265.00" r="1.2" fill="#fff" stroke="#b3133a" stroke-width="1.0"/>
<circle cx="54.50" cy="270.50" r="1.2" fill="#fff" stroke="#b3133a" stroke-width="1.0"/>
<circle cx="56.40" cy="271.00" r="1.2" fill="#fff" stroke="#b3133a" stroke-width="1.0"/>
<circle cx="58.20" cy="270.50" r="1.2" fill="#fff" stroke="#b3133a" stroke-width="1.0"/>
<circle cx="59.80" cy="271.00" r="1.2" fill="#fff" stroke="#b3133a" stroke-width="1.0"/>
<circle cx="61.50" cy="270.00" r="1.2" fill="#fff" stroke="#b3133a" stroke-width="1.0"/>
<circle cx="56.40" cy="274.00" r="1.2" fill="#fff" stroke="#b3133a" stroke-width="1.0"/>
<circle cx="61.10" cy="276.60" r="1.2" fill="#fff" stroke="#b3133a" stroke-width="1.0"/>
<circle cx="54.50" cy="278.80" r="1.2" fill="#fff" stroke="#b3133a" stroke-width="1.0"/>
<circle cx="57.80" cy="278.80" r="1.2" fill="#fff" stroke="#b3133a" stroke-width="1.0"/>
<circle cx="60.00" cy="278.80" r="1.2" fill="#fff" stroke="#b3133a" stroke-width="1.0"/>
<circle cx="63.00" cy="280.20" r="1.2" fill="#fff" stroke="#b3133a" stroke-width="1.0"/>
<circle cx="51.70" cy="282.10" r="1.2" fill="#fff" stroke="#b3133a" stroke-width="1.0"/>
<circle cx="54.00" cy="282.70" r="1.2" fill="#fff" stroke="#b3133a" stroke-width="1.0"/>
<circle cx="55.60" cy="283.20" r="1.2" fill="#fff" stroke="#b3133a" stroke-width="1.0"/>
<circle cx="57.80" cy="282.90" r="1.2" fill="#fff" stroke="#b3133a" stroke-width="1.0"/>
<circle cx="59.50" cy="282.40" r="1.2" fill="#fff" stroke="#b3133a" stroke-width="1.0"/>
<circle cx="54.00" cy="286.00" r="1.2" fill="#fff" stroke="#b3133a" stroke-width="1.0"/>
<circle cx="56.20" cy="286.00" r="1.2" fill="#fff" stroke="#b3133a" stroke-width="1.0"/>
<circle cx="58.20" cy="285.40" r="1.2" fill="#fff" stroke="#b3133a" stroke-width="1.0"/>
<circle cx="60.60" cy="286.20" r="1.2" fill="#fff" stroke="#b3133a" stroke-width="1.0"/>
<circle cx="63.40" cy="286.50" r="1.2" fill="#fff" stroke="#b3133a" stroke-width="1.0"/>
<circle cx="59.50" cy="287.60" r="1.2" fill="#fff" stroke="#b3133a" stroke-width="1.0"/>
<circle cx="49.50" cy="290.20" r="1.2" fill="#fff" stroke="#b3133a" stroke-width="1.0"/>
<circle cx="51.70" cy="290.60" r="1.2" fill="#fff" stroke="#b3133a" stroke-width="1.0"/>
<circle cx="54.20" cy="291.00" r="1.2" fill="#fff" stroke="#b3133a" stroke-width="1.0"/>
<circle cx="56.40" cy="291.30" r="1.2" fill="#fff" stroke="#b3133a" stroke-width="1.0"/>
<circle cx="58.60" cy="291.30" r="1.2" fill="#fff" stroke="#b3133a" stroke-width="1.0"/>
<circle cx="60.80" cy="290.60" r="1.2" fill="#fff" stroke="#b3133a" stroke-width="1.0"/>
<circle cx="63.00" cy="290.20" r="1.2" fill="#fff" stroke="#b3133a" stroke-width="1.0"/>
<circle cx="65.60" cy="289.50" r="1.2" fill="#fff" stroke="#b3133a" stroke-width="1.0"/>
<circle cx="50.60" cy="296.00" r="1.2" fill="#fff" stroke="#b3133a" stroke-width="1.0"/>
<circle cx="52.80" cy="296.50" r="1.2" fill="#fff" stroke="#b3133a" stroke-width="1.0"/>
<circle cx="55.10" cy="296.50" r="1.2" fill="#fff" stroke="#b3133a" stroke-width="1.0"/>
<circle cx="57.30" cy="297.00" r="1.2" fill="#fff" stroke="#b3133a" stroke-width="1.0"/>
<circle cx="59.30" cy="296.80" r="1.2" fill="#fff" stroke="#b3133a" stroke-width="1.0"/>
<circle cx="61.70" cy="296.20" r="1.2" fill="#fff" stroke="#b3133a" stroke-width="1.0"/>
<circle cx="64.50" cy="295.00" r="1.2" fill="#fff" stroke="#b3133a" stroke-width="1.0"/>
<circle cx="56.20" cy="300.40" r="1.2" fill="#fff" stroke="#b3133a" stroke-width="1.0"/>
<circle cx="209.20" cy="382.80" r="1.2" fill="#fff" stroke="#b3133a" stroke-width="1.0"/>
<circle cx="211.00" cy="382.30" r="1.2" fill="#fff" stroke="#b3133a" stroke-width="1.0"/>
<circle cx="212.90" cy="382.30" r="1.2" fill="#fff" stroke="#b3133a" stroke-width="1.0"/>
<circle cx="207.40" cy="388.00" r="1.2" fill="#fff" stroke="#b3133a" stroke-width="1.0"/>
<circle cx="209.40" cy="388.30" r="1.2" fill="#fff" stroke="#b3133a" stroke-width="1.0"/>
<circle cx="211.30" cy="388.00" r="1.2" fill="#fff" stroke="#b3133a" stroke-width="1.0"/>
<circle cx="213.10" cy="388.30" r="1.2" fill="#fff" stroke="#b3133a" stroke-width="1.0"/>
<circle cx="214.60" cy="387.50" r="1.2" fill="#fff" stroke="#b3133a" stroke-width="1.0"/>
<circle cx="209.20" cy="391.40" r="1.2" fill="#fff" stroke="#b3133a" stroke-width="1.0"/>
<circle cx="214.10" cy="394.20" r="1.2" fill="#fff" stroke="#b3133a" stroke-width="1.0"/>
<circle cx="207.60" cy="396.30" r="1.2" fill="#fff" stroke="#b3133a" stroke-width="1.0"/>
<circle cx="210.70" cy="396.60" r="1.2" fill="#fff" stroke="#b3133a" stroke-width="1.0"/>
<circle cx="212.80" cy="397.00" r="1.2" fill="#fff" stroke="#b3133a" stroke-width="1.0"/>
<circle cx="215.70" cy="397.70" r="1.2" fill="#fff" stroke="#b3133a" stroke-width="1.0"/>
<circle cx="204.40" cy="400.00" r="1.2" fill="#fff" stroke="#b3133a" stroke-width="1.0"/>
<circle cx="207.40" cy="400.80" r="1.2" fill="#fff" stroke="#b3133a" stroke-width="1.0"/>
<circle cx="209.20" cy="401.50" r="1.2" fill="#fff" stroke="#b3133a" stroke-width="1.0"/>
<circle cx="211.30" cy="401.00" r="1.2" fill="#fff" stroke="#b3133a" stroke-width="1.0"/>
<circle cx="213.40" cy="400.50" r="1.2" fill="#fff" stroke="#b3133a" stroke-width="1.0"/>
<circle cx="206.80" cy="402.90" r="1.2" fill="#fff" stroke="#b3133a" stroke-width="1.0"/>
<circle cx="209.40" cy="403.10" r="1.2" fill="#fff" stroke="#b3133a" stroke-width="1.0"/>
<circle cx="211.50" cy="402.90" r="1.2" fill="#fff" stroke="#b3133a" stroke-width="1.0"/>
<circle cx="213.60" cy="403.60" r="1.2" fill="#fff" stroke="#b3133a" stroke-width="1.0"/>
<circle cx="216.20" cy="403.90" r="1.2" fill="#fff" stroke="#b3133a" stroke-width="1.0"/>
<circle cx="212.60" cy="405.40" r="1.2" fill="#fff" stroke="#b3133a" stroke-width="1.0"/>
<circle cx="202.70" cy="407.20" r="1.2" fill="#fff" stroke="#b3133a" stroke-width="1.0"/>
<circle cx="204.80" cy="408.10" r="1.2" fill="#fff" stroke="#b3133a" stroke-width="1.0"/>
<circle cx="207.10" cy="408.50" r="1.2" fill="#fff" stroke="#b3133a" stroke-width="1.0"/>
<circle cx="209.40" cy="408.80" r="1.2" fill="#fff" stroke="#b3133a" stroke-width="1.0"/>
<circle cx="211.50" cy="408.80" r="1.2" fill="#fff" stroke="#b3133a" stroke-width="1.0"/>
<circle cx="213.80" cy="408.50" r="1.2" fill="#fff" stroke="#b3133a" stroke-width="1.0"/>
<circle cx="216.20" cy="407.70" r="1.2" fill="#fff" stroke="#b3133a" stroke-width="1.0"/>
<circle cx="218.80" cy="406.70" r="1.2" fill="#fff" stroke="#b3133a" stroke-width="1.0"/>
<circle cx="204.40" cy="413.30" r="1.2" fill="#fff" stroke="#b3133a" stroke-width="1.0"/>
<circle cx="206.80" cy="414.00" r="1.2" fill="#fff" stroke="#b3133a" stroke-width="1.0"/>
<circle cx="209.20" cy="414.00" r="1.2" fill="#fff" stroke="#b3133a" stroke-width="1.0"/>
<circle cx="211.50" cy="414.30" r="1.2" fill="#fff" stroke="#b3133a" stroke-width="1.0"/>
<circle cx="213.60" cy="414.00" r="1.2" fill="#fff" stroke="#b3133a" stroke-width="1.0"/>
<circle cx="215.70" cy="413.30" r="1.2" fill="#fff" stroke="#b3133a" stroke-width="1.0"/>
<circle cx="218.00" cy="412.20" r="1.2" fill="#fff" stroke="#b3133a" stroke-width="1.0"/>
<circle cx="209.40" cy="417.10" r="1.2" fill="#fff" stroke="#b3133a" stroke-width="1.0"/>
<circle cx="211.40" cy="276.60" r="1.2" fill="#fff" stroke="#b3133a" stroke-width="1.0"/>
<circle cx="211.40" cy="281.80" r="1.2" fill="#fff" stroke="#b3133a" stroke-width="1.0"/>
<circle cx="206.10" cy="284.30" r="1.2" fill="#fff" stroke="#b3133a" stroke-width="1.0"/>
<circle cx="209.20" cy="286.40" r="1.2" fill="#fff" stroke="#b3133a" stroke-width="1.0"/>
<circle cx="210.80" cy="286.40" r="1.2" fill="#fff" stroke="#b3133a" stroke-width="1.0"/>
<circle cx="213.10" cy="286.30" r="1.2" fill="#fff" stroke="#b3133a" stroke-width="1.0"/>
<circle cx="216.40" cy="286.30" r="1.2" fill="#fff" stroke="#b3133a" stroke-width="1.0"/>
<circle cx="204.20" cy="289.00" r="1.2" fill="#fff" stroke="#b3133a" stroke-width="1.0"/>
<circle cx="205.80" cy="289.40" r="1.2" fill="#fff" stroke="#b3133a" stroke-width="1.0"/>
<circle cx="207.30" cy="289.80" r="1.2" fill="#fff" stroke="#b3133a" stroke-width="1.0"/>
<circle cx="208.90" cy="289.40" r="1.2" fill="#fff" stroke="#b3133a" stroke-width="1.0"/>
<circle cx="211.00" cy="289.80" r="1.2" fill="#fff" stroke="#b3133a" stroke-width="1.0"/>
<circle cx="213.50" cy="289.40" r="1.2" fill="#fff" stroke="#b3133a" stroke-width="1.0"/>
<circle cx="215.40" cy="289.80" r="1.2" fill="#fff" stroke="#b3133a" stroke-width="1.0"/>
<circle cx="218.00" cy="289.00" r="1.2" fill="#fff" stroke="#b3133a" stroke-width="1.0"/>
<circle cx="203.40" cy="292.50" r="1.2" fill="#fff" stroke="#b3133a" stroke-width="1.0"/>
<circle cx="205.80" cy="292.90" r="1.2" fill="#fff" stroke="#b3133a" stroke-width="1.0"/>
<circle cx="208.90" cy="293.30" r="1.2" fill="#fff" stroke="#b3133a" stroke-width="1.0"/>
<circle cx="212.00" cy="293.30" r="1.2" fill="#fff" stroke="#b3133a" stroke-width="1.0"/>
<circle cx="214.70" cy="292.90" r="1.2" fill="#fff" stroke="#b3133a" stroke-width="1.0"/>
<circle cx="217.80" cy="292.10" r="1.2" fill="#fff" stroke="#b3133a" stroke-width="1.0"/>
<circle cx="207.30" cy="294.80" r="1.2" fill="#fff" stroke="#b3133a" stroke-width="1.0"/>
<circle cx="210.40" cy="294.80" r="1.2" fill="#fff" stroke="#b3133a" stroke-width="1.0"/>
<circle cx="213.50" cy="294.70" r="1.2" fill="#fff" stroke="#b3133a" stroke-width="1.0"/>
<circle cx="204.20" cy="297.10" r="1.2" fill="#fff" stroke="#b3133a" stroke-width="1.0"/>
<circle cx="206.10" cy="297.50" r="1.2" fill="#fff" stroke="#b3133a" stroke-width="1.0"/>
<circle cx="208.10" cy="297.50" r="1.2" fill="#fff" stroke="#b3133a" stroke-width="1.0"/>
<circle cx="214.70" cy="298.30" r="1.2" fill="#fff" stroke="#b3133a" stroke-width="1.0"/>
<circle cx="216.60" cy="297.50" r="1.2" fill="#fff" stroke="#b3133a" stroke-width="1.0"/>
<circle cx="218.30" cy="297.10" r="1.2" fill="#fff" stroke="#b3133a" stroke-width="1.0"/>
<circle cx="211.40" cy="299.50" r="1.2" fill="#fff" stroke="#b3133a" stroke-width="1.0"/>
<circle cx="57.80" cy="389.80" r="1.2" fill="#fff" stroke="#b3133a" stroke-width="1.0"/>
<circle cx="57.80" cy="391.70" r="1.2" fill="#fff" stroke="#b3133a" stroke-width="1.0"/>
<circle cx="57.80" cy="393.90" r="1.2" fill="#fff" stroke="#b3133a" stroke-width="1.0"/>
<circle cx="59.50" cy="399.40" r="1.2" fill="#fff" stroke="#b3133a" stroke-width="1.0"/>
<circle cx="52.90" cy="401.60" r="1.2" fill="#fff" stroke="#b3133a" stroke-width="1.0"/>
<circle cx="54.80" cy="401.00" r="1.2" fill="#fff" stroke="#b3133a" stroke-width="1.0"/>
<circle cx="56.40" cy="403.40" r="1.2" fill="#fff" stroke="#b3133a" stroke-width="1.0"/>
<circle cx="62.50" cy="402.90" r="1.2" fill="#fff" stroke="#b3133a" stroke-width="1.0"/>
<circle cx="64.30" cy="404.80" r="1.2" fill="#fff" stroke="#b3133a" stroke-width="1.0"/>
<circle cx="66.20" cy="405.80" r="1.2" fill="#fff" stroke="#b3133a" stroke-width="1.0"/>
<circle cx="59.30" cy="404.80" r="1.2" fill="#fff" stroke="#b3133a" stroke-width="1.0"/>
<circle cx="49.70" cy="405.80" r="1.2" fill="#fff" stroke="#b3133a" stroke-width="1.0"/>
<circle cx="51.80" cy="406.90" r="1.2" fill="#fff" stroke="#b3133a" stroke-width="1.0"/>
<circle cx="54.00" cy="407.60" r="1.2" fill="#fff" stroke="#b3133a" stroke-width="1.0"/>
<circle cx="57.00" cy="407.90" r="1.2" fill="#fff" stroke="#b3133a" stroke-width="1.0"/>
<circle cx="60.00" cy="407.60" r="1.2" fill="#fff" stroke="#b3133a" stroke-width="1.0"/>
<circle cx="62.80" cy="407.20" r="1.2" fill="#fff" stroke="#b3133a" stroke-width="1.0"/>
<circle cx="50.20" cy="410.30" r="1.2" fill="#fff" stroke="#b3133a" stroke-width="1.0"/>
<circle cx="52.40" cy="410.60" r="1.2" fill="#fff" stroke="#b3133a" stroke-width="1.0"/>
<circle cx="54.80" cy="410.30" r="1.2" fill="#fff" stroke="#b3133a" stroke-width="1.0"/>
<circle cx="57.20" cy="410.90" r="1.2" fill="#fff" stroke="#b3133a" stroke-width="1.0"/>
<circle cx="61.40" cy="411.10" r="1.2" fill="#fff" stroke="#b3133a" stroke-width="1.0"/>
<circle cx="63.50" cy="410.30" r="1.2" fill="#fff" stroke="#b3133a" stroke-width="1.0"/>
<circle cx="65.40" cy="409.00" r="1.2" fill="#fff" stroke="#b3133a" stroke-width="1.0"/>
<circle cx="50.20" cy="413.00" r="1.2" fill="#fff" stroke="#b3133a" stroke-width="1.0"/>
<circle cx="52.40" cy="414.30" r="1.2" fill="#fff" stroke="#b3133a" stroke-width="1.0"/>
<circle cx="54.50" cy="413.50" r="1.2" fill="#fff" stroke="#b3133a" stroke-width="1.0"/>
<circle cx="56.90" cy="413.80" r="1.2" fill="#fff" stroke="#b3133a" stroke-width="1.0"/>
<circle cx="59.30" cy="414.10" r="1.2" fill="#fff" stroke="#b3133a" stroke-width="1.0"/>
<circle cx="61.90" cy="414.30" r="1.2" fill="#fff" stroke="#b3133a" stroke-width="1.0"/>
<circle cx="63.80" cy="413.50" r="1.2" fill="#fff" stroke="#b3133a" stroke-width="1.0"/>
<circle cx="65.60" cy="413.00" r="1.2" fill="#fff" stroke="#b3133a" stroke-width="1.0"/>
<circle cx="54.00" cy="415.90" r="1.2" fill="#fff" stroke="#b3133a" stroke-width="1.0"/>
<circle cx="56.40" cy="416.20" r="1.2" fill="#fff" stroke="#b3133a" stroke-width="1.0"/>
<circle cx="58.70" cy="416.20" r="1.2" fill="#fff" stroke="#b3133a" stroke-width="1.0"/>
<circle cx="61.10" cy="415.90" r="1.2" fill="#fff" stroke="#b3133a" stroke-width="1.0"/>
<line x1="49.30" y1="284.80" x2="67.00" y2="284.80" stroke="#2a2a2a" stroke-width="1.0"/>
<line x1="53.65" y1="283.60" x2="62.65" y2="283.60" stroke="#555" stroke-width="0.6"/>
<line x1="53.65" y1="286.00" x2="62.65" y2="286.00" stroke="#555" stroke-width="0.6"/>
<line x1="202.60" y1="291.90" x2="220.30" y2="291.90" stroke="#2a2a2a" stroke-width="1.0"/>
<line x1="206.95" y1="290.70" x2="215.95" y2="290.70" stroke="#555" stroke-width="0.6"/>
<line x1="206.95" y1="293.10" x2="215.95" y2="293.10" stroke="#555" stroke-width="0.6"/>
<line x1="48.90" y1="408.40" x2="66.40" y2="408.40" stroke="#2a2a2a" stroke-width="1.0"/>
<line x1="53.15" y1="407.20" x2="62.15" y2="407.20" stroke="#555" stroke-width="0.6"/>
<line x1="53.15" y1="409.60" x2="62.15" y2="409.60" stroke="#555" stroke-width="0.6"/>
<line x1="202.40" y1="402.30" x2="219.80" y2="402.30" stroke="#2a2a2a" stroke-width="1.0"/>
<line x1="206.60" y1="401.10" x2="215.60" y2="401.10" stroke="#555" stroke-width="0.6"/>
<line x1="206.60" y1="403.50" x2="215.60" y2="403.50" stroke="#555" stroke-width="0.6"/>
<polygon points="84.90,234.85 86.18,237.14 83.62,237.14" fill="#2b5ca6"/>
<polygon points="84.90,244.25 86.18,246.54 83.62,246.54" fill="#2b5ca6"/>
<polygon points="78.30,246.05 79.58,248.34 77.02,248.34" fill="#2b5ca6"/>
<polygon points="81.70,246.65 82.98,248.94 80.42,248.94" fill="#2b5ca6"/>
<polygon points="86.60,246.65 87.88,248.94 85.32,248.94" fill="#2b5ca6"/>
<polygon points="90.00,247.95 91.28,250.25 88.72,250.25" fill="#2b5ca6"/>
<polygon points="84.90,248.65 86.18,250.94 83.62,250.94" fill="#2b5ca6"/>
<polygon points="81.70,251.05 82.98,253.34 80.42,253.34" fill="#2b5ca6"/>
<polygon points="88.30,250.85 89.58,253.14 87.02,253.14" fill="#2b5ca6"/>
<polygon points="84.90,253.05 86.18,255.34 83.62,255.34" fill="#2b5ca6"/>
<polygon points="84.90,257.35 86.18,259.64 83.62,259.64" fill="#2b5ca6"/>
<polygon points="83.50,259.85 84.78,262.14 82.22,262.14" fill="#2b5ca6"/>
<polygon points="86.60,262.25 87.88,264.55 85.32,264.55" fill="#2b5ca6"/>
<polygon points="84.90,270.65 86.18,272.94 83.62,272.94" fill="#2b5ca6"/>
<polygon points="238.20,259.55 239.48,261.84 236.92,261.84" fill="#2b5ca6"/>
<polygon points="235.30,270.25 236.58,272.55 234.02,272.55" fill="#2b5ca6"/>
<polygon points="241.60,271.35 242.88,273.64 240.32,273.64" fill="#2b5ca6"/>
<polygon points="238.20,273.65 239.48,275.94 236.92,275.94" fill="#2b5ca6"/>
<polygon points="232.00,278.55 233.28,280.84 230.72,280.84" fill="#2b5ca6"/>
<polygon points="235.30,279.45 236.58,281.75 234.02,281.75" fill="#2b5ca6"/>
<polygon points="238.50,279.75 239.78,282.05 237.22,282.05" fill="#2b5ca6"/>
<polygon points="241.60,278.95 242.88,281.25 240.32,281.25" fill="#2b5ca6"/>
<polygon points="245.30,278.55 246.58,280.84 244.02,280.84" fill="#2b5ca6"/>
<polygon points="235.30,284.35 236.58,286.64 234.02,286.64" fill="#2b5ca6"/>
<polygon points="236.90,286.25 238.18,288.55 235.62,288.55" fill="#2b5ca6"/>
<polygon points="240.10,283.65 241.38,285.94 238.82,285.94" fill="#2b5ca6"/>
<polygon points="240.10,288.75 241.38,291.05 238.82,291.05" fill="#2b5ca6"/>
<polygon points="240.10,294.05 241.38,296.34 238.82,296.34" fill="#2b5ca6"/>
<polygon points="236.70,296.35 237.98,298.64 235.42,298.64" fill="#2b5ca6"/>
<polygon points="85.00,373.45 86.28,375.75 83.72,375.75" fill="#2b5ca6"/>
<polygon points="86.70,379.65 87.98,381.94 85.42,381.94" fill="#2b5ca6"/>
<polygon points="83.30,382.45 84.58,384.75 82.02,384.75" fill="#2b5ca6"/>
<polygon points="80.20,386.55 81.48,388.84 78.92,388.84" fill="#2b5ca6"/>
<polygon points="89.70,387.25 90.98,389.55 88.42,389.55" fill="#2b5ca6"/>
<polygon points="85.00,388.15 86.28,390.44 83.72,390.44" fill="#2b5ca6"/>
<polygon points="78.30,390.75 79.58,393.05 77.02,393.05" fill="#2b5ca6"/>
<polygon points="81.80,391.95 83.08,394.25 80.52,394.25" fill="#2b5ca6"/>
<polygon points="84.80,393.35 86.08,395.64 83.52,395.64" fill="#2b5ca6"/>
<polygon points="88.30,392.85 89.58,395.14 87.02,395.14" fill="#2b5ca6"/>
<polygon points="91.50,391.15 92.78,393.44 90.22,393.44" fill="#2b5ca6"/>
<polygon points="85.00,400.05 86.28,402.34 83.72,402.34" fill="#2b5ca6"/>
<polygon points="85.00,406.95 86.28,409.25 83.72,409.25" fill="#2b5ca6"/>
<polygon points="239.70,360.05 240.98,362.34 238.42,362.34" fill="#2b5ca6"/>
<polygon points="236.50,363.05 237.78,365.34 235.22,365.34" fill="#2b5ca6"/>
<polygon points="237.90,370.15 239.18,372.44 236.62,372.44" fill="#2b5ca6"/>
<polygon points="236.50,375.85 237.78,378.14 235.22,378.14" fill="#2b5ca6"/>
<polygon points="237.90,374.95 239.18,377.25 236.62,377.25" fill="#2b5ca6"/>
<polygon points="240.10,378.55 241.38,380.84 238.82,380.84" fill="#2b5ca6"/>
<polygon points="239.70,383.05 240.98,385.34 238.42,385.34" fill="#2b5ca6"/>
<polygon points="236.70,385.95 237.98,388.25 235.42,388.25" fill="#2b5ca6"/>
<polygon points="236.50,389.45 237.78,391.75 235.22,391.75" fill="#2b5ca6"/>
<polygon points="240.10,391.05 241.38,393.34 238.82,393.34" fill="#2b5ca6"/>
<polygon points="237.90,396.15 239.18,398.44 236.62,398.44" fill="#2b5ca6"/>
<polygon points="237.90,400.35 239.18,402.64 236.62,402.64" fill="#2b5ca6"/>
<polygon points="236.50,403.55 237.78,405.84 235.22,405.84" fill="#2b5ca6"/>
<polygon points="240.10,402.95 241.38,405.25 238.82,405.25" fill="#2b5ca6"/>
<line x1="76.10" y1="252.40" x2="93.90" y2="252.40" stroke="#1e1e1e" stroke-width="1.1"/>
<line x1="80.10" y1="250.00" x2="89.90" y2="250.00" stroke="#3a3a3a" stroke-width="0.9"/>
<line x1="80.10" y1="255.30" x2="89.90" y2="255.30" stroke="#3a3a3a" stroke-width="0.9"/>
<line x1="85.00" y1="250.00" x2="85.00" y2="255.30" stroke="#3a3a3a" stroke-width="0.9"/>
<line x1="229.50" y1="281.50" x2="247.30" y2="281.50" stroke="#1e1e1e" stroke-width="1.1"/>
<line x1="233.50" y1="278.60" x2="243.30" y2="278.60" stroke="#3a3a3a" stroke-width="0.9"/>
<line x1="233.50" y1="283.60" x2="243.30" y2="283.60" stroke="#3a3a3a" stroke-width="0.9"/>
<line x1="238.40" y1="278.60" x2="238.40" y2="283.60" stroke="#3a3a3a" stroke-width="0.9"/>
<line x1="76.15" y1="390.50" x2="93.95" y2="390.50" stroke="#1e1e1e" stroke-width="1.1"/>
<line x1="80.15" y1="388.10" x2="89.95" y2="388.10" stroke="#3a3a3a" stroke-width="0.9"/>
<line x1="80.15" y1="392.40" x2="89.95" y2="392.40" stroke="#3a3a3a" stroke-width="0.9"/>
<line x1="85.05" y1="388.10" x2="85.05" y2="392.40" stroke="#3a3a3a" stroke-width="0.9"/>
<line x1="229.35" y1="385.00" x2="247.15" y2="385.00" stroke="#1e1e1e" stroke-width="1.1"/>
<line x1="233.35" y1="381.10" x2="243.15" y2="381.10" stroke="#3a3a3a" stroke-width="0.9"/>
<line x1="233.35" y1="388.50" x2="243.15" y2="388.50" stroke="#3a3a3a" stroke-width="0.9"/>
<line x1="238.25" y1="381.10" x2="238.25" y2="388.50" stroke="#3a3a3a" stroke-width="0.9"/>
<rect x="103.30" y="300.20" width="17.50" height="2.60" rx="1.2" fill="#5bbb3d"/>
<circle cx="110.40" cy="294.90" r="1.05" fill="#5bbb3d"/>
<circle cx="113.80" cy="296.50" r="1.05" fill="#5bbb3d"/>
<line x1="107.00" y1="300.50" x2="116.80" y2="300.50" stroke="#111" stroke-width="1.2"/>
<circle cx="262.20" cy="291.90" r="1.0" fill="#5bbb3d"/>
<circle cx="265.50" cy="292.80" r="1.0" fill="#5bbb3d"/>
<circle cx="268.90" cy="292.80" r="1.0" fill="#5bbb3d"/>
<circle cx="262.20" cy="297.00" r="1.0" fill="#5bbb3d"/>
<circle cx="265.50" cy="297.10" r="1.0" fill="#5bbb3d"/>
<circle cx="268.90" cy="297.00" r="1.0" fill="#5bbb3d"/>
<circle cx="257.90" cy="300.50" r="1.0" fill="#5bbb3d"/>
<circle cx="260.90" cy="300.80" r="1.0" fill="#5bbb3d"/>
<circle cx="263.90" cy="301.80" r="1.0" fill="#5bbb3d"/>
<circle cx="266.90" cy="300.90" r="1.0" fill="#5bbb3d"/>
<circle cx="270.10" cy="300.70" r="1.0" fill="#5bbb3d"/>
<circle cx="273.20" cy="300.20" r="1.0" fill="#5bbb3d"/>
<line x1="256.80" y1="297.70" x2="274.30" y2="297.70" stroke="#1a1a1a" stroke-width="1.4"/>
<circle cx="262.20" cy="297.00" r="0.9" fill="#5bbb3d"/>
<circle cx="265.50" cy="297.10" r="0.9" fill="#5bbb3d"/>
<circle cx="268.90" cy="297.00" r="0.9" fill="#5bbb3d"/>
<rect x="103.30" y="416.50" width="17.70" height="3.00" rx="1.2" fill="#5bbb3d"/>
<circle cx="108.80" cy="411.30" r="1.05" fill="#5bbb3d"/>
<circle cx="112.00" cy="412.00" r="1.05" fill="#5bbb3d"/>
<circle cx="115.40" cy="410.50" r="1.05" fill="#5bbb3d"/>
<line x1="107.00" y1="416.80" x2="116.80" y2="416.80" stroke="#111" stroke-width="1.2"/>
<rect x="256.10" y="418.00" width="18.00" height="2.00" rx="1.2" fill="#5bbb3d"/>
<circle cx="263.50" cy="412.40" r="1.05" fill="#5bbb3d"/>
<circle cx="266.90" cy="413.80" r="1.05" fill="#5bbb3d"/>
<line x1="260.00" y1="417.40" x2="269.90" y2="417.40" stroke="#111" stroke-width="1.1"/>
<circle cx="139.30" cy="238.30" r="1.3" fill="#41105f"/>
<circle cx="137.60" cy="245.60" r="1.3" fill="#41105f"/>
<circle cx="140.90" cy="244.10" r="1.3" fill="#41105f"/>
<circle cx="139.30" cy="253.10" r="1.3" fill="#41105f"/>
<circle cx="139.30" cy="257.50" r="1.3" fill="#41105f"/>
<line x1="130.20" y1="247.70" x2="148.00" y2="247.70" stroke="#1e1e1e" stroke-width="1.1"/>
<line x1="134.20" y1="244.30" x2="144.00" y2="244.30" stroke="#3a3a3a" stroke-width="0.9"/>
<line x1="134.20" y1="251.40" x2="144.00" y2="251.40" stroke="#3a3a3a" stroke-width="0.9"/>
<line x1="139.10" y1="244.30" x2="139.10" y2="251.40" stroke="#3a3a3a" stroke-width="0.9"/>
<circle cx="290.90" cy="245.80" r="1.3" fill="#41105f"/>
<circle cx="294.20" cy="245.40" r="1.3" fill="#41105f"/>
<circle cx="292.70" cy="250.90" r="1.3" fill="#41105f"/>
<circle cx="290.90" cy="269.30" r="1.3" fill="#41105f"/>
<circle cx="294.20" cy="268.60" r="1.3" fill="#41105f"/>
<line x1="283.75" y1="256.00" x2="301.55" y2="256.00" stroke="#1e1e1e" stroke-width="1.1"/>
<line x1="287.75" y1="250.90" x2="297.55" y2="250.90" stroke="#3a3a3a" stroke-width="0.9"/>
<line x1="287.75" y1="261.30" x2="297.55" y2="261.30" stroke="#3a3a3a" stroke-width="0.9"/>
<line x1="292.65" y1="250.90" x2="292.65" y2="261.30" stroke="#3a3a3a" stroke-width="0.9"/>
<circle cx="136.30" cy="355.40" r="1.3" fill="#41105f"/>
<circle cx="139.20" cy="356.50" r="1.3" fill="#41105f"/>
<circle cx="142.50" cy="355.90" r="1.3" fill="#41105f"/>
<circle cx="139.20" cy="385.30" r="1.3" fill="#41105f"/>
<circle cx="139.20" cy="410.80" r="1.3" fill="#41105f"/>
<line x1="130.30" y1="372.50" x2="148.10" y2="372.50" stroke="#1e1e1e" stroke-width="1.1"/>
<line x1="134.30" y1="361.60" x2="144.10" y2="361.60" stroke="#3a3a3a" stroke-width="0.9"/>
<line x1="134.30" y1="383.80" x2="144.10" y2="383.80" stroke="#3a3a3a" stroke-width="0.9"/>
<line x1="139.20" y1="361.60" x2="139.20" y2="383.80" stroke="#3a3a3a" stroke-width="0.9"/>
<circle cx="290.80" cy="371.60" r="1.3" fill="#41105f"/>
<circle cx="294.20" cy="370.50" r="1.3" fill="#41105f"/>
<circle cx="292.40" cy="392.00" r="1.3" fill="#41105f"/>
<circle cx="290.80" cy="403.00" r="1.3" fill="#41105f"/>
<circle cx="294.20" cy="403.00" r="1.3" fill="#41105f"/>
<line x1="283.40" y1="388.00" x2="301.20" y2="388.00" stroke="#1e1e1e" stroke-width="1.1"/>
<line x1="287.40" y1="380.90" x2="297.20" y2="380.90" stroke="#3a3a3a" stroke-width="0.9"/>
<line x1="287.40" y1="395.30" x2="297.20" y2="395.30" stroke="#3a3a3a" stroke-width="0.9"/>
<line x1="292.30" y1="380.90" x2="292.30" y2="395.30" stroke="#3a3a3a" stroke-width="0.9"/>
<line x1="361.50" y1="221.50" x2="361.50" y2="334.10" stroke="#383838" stroke-width="1.3"/>
<line x1="360.90" y1="333.50" x2="512.90" y2="333.50" stroke="#383838" stroke-width="1.4"/>
<line x1="358.50" y1="224.00" x2="361.50" y2="224.00" stroke="#383838" stroke-width="1.0"/>
<text x="355.30" y="226.80" font-size="7.9" text-anchor="end" font-weight="normal" fill="#1c1c1c" stroke="#1c1c1c" stroke-width="0.12" textLength="12.40" lengthAdjust="spacingAndGlyphs">150</text>
<line x1="358.50" y1="260.50" x2="361.50" y2="260.50" stroke="#383838" stroke-width="1.0"/>
<text x="355.30" y="263.30" font-size="7.9" text-anchor="end" font-weight="normal" fill="#1c1c1c" stroke="#1c1c1c" stroke-width="0.12" textLength="12.40" lengthAdjust="spacingAndGlyphs">100</text>
<line x1="358.50" y1="297.00" x2="361.50" y2="297.00" stroke="#383838" stroke-width="1.0"/>
<text x="355.30" y="299.80" font-size="7.9" text-anchor="end" font-weight="normal" fill="#1c1c1c" stroke="#1c1c1c" stroke-width="0.12" textLength="8.40" lengthAdjust="spacingAndGlyphs">50</text>
<line x1="385.00" y1="333.50" x2="385.00" y2="335.90" stroke="#383838" stroke-width="0.9"/>
<line x1="419.60" y1="333.50" x2="419.60" y2="335.90" stroke="#383838" stroke-width="0.9"/>
<line x1="454.50" y1="333.50" x2="454.50" y2="335.90" stroke="#383838" stroke-width="0.9"/>
<line x1="489.70" y1="333.50" x2="489.70" y2="335.90" stroke="#383838" stroke-width="0.9"/>
<text x="335.6" y="277.4" font-size="8.8" text-anchor="middle" fill="#1c1c1c" stroke="#1c1c1c" stroke-width="0.2" transform="rotate(-90 335.6 277.4)" textLength="79.0" lengthAdjust="spacingAndGlyphs">&#945;-dsDNA IgG (U/ml) x1000</text>
<rect x="407.80" y="318.00" width="23.80" height="14.80" fill="#c9cde2" stroke="none" stroke-width="0"/>
<rect x="478.20" y="298.50" width="22.40" height="34.30" fill="#cbbfd9" stroke="none" stroke-width="0"/>
<line x1="383.40" y1="227.90" x2="488.50" y2="227.90" stroke="#444" stroke-width="1.1"/>
<circle cx="436.10" cy="223.90" r="0.95" fill="#111"/>
<line x1="383.40" y1="265.30" x2="421.50" y2="265.30" stroke="#333" stroke-width="1.1"/>
<circle cx="399.40" cy="261.40" r="0.95" fill="#111"/>
<circle cx="401.90" cy="261.40" r="0.95" fill="#111"/>
<circle cx="404.40" cy="261.40" r="0.95" fill="#111"/>
<circle cx="376.60" cy="333.60" r="1.55" fill="none" stroke="#b3133a" stroke-width="1.15"/>
<circle cx="380.40" cy="333.60" r="1.55" fill="none" stroke="#b3133a" stroke-width="1.15"/>
<circle cx="384.40" cy="333.60" r="1.55" fill="none" stroke="#b3133a" stroke-width="1.15"/>
<circle cx="388.30" cy="333.60" r="1.55" fill="none" stroke="#b3133a" stroke-width="1.15"/>
<circle cx="392.50" cy="333.60" r="1.55" fill="none" stroke="#b3133a" stroke-width="1.15"/>
<circle cx="444.60" cy="333.80" r="1.3" fill="#4aae2c"/>
<circle cx="446.92" cy="333.80" r="1.3" fill="#4aae2c"/>
<circle cx="449.24" cy="333.80" r="1.3" fill="#4aae2c"/>
<circle cx="451.56" cy="333.80" r="1.3" fill="#4aae2c"/>
<circle cx="453.88" cy="333.80" r="1.3" fill="#4aae2c"/>
<circle cx="456.20" cy="333.80" r="1.3" fill="#4aae2c"/>
<circle cx="458.52" cy="333.80" r="1.3" fill="#4aae2c"/>
<circle cx="460.84" cy="333.80" r="1.3" fill="#4aae2c"/>
<circle cx="463.16" cy="333.80" r="1.3" fill="#4aae2c"/>
<circle cx="465.48" cy="333.80" r="1.3" fill="#4aae2c"/>
<line x1="419.50" y1="312.10" x2="419.50" y2="326.00" stroke="#284a8c" stroke-width="0.9"/>
<line x1="413.60" y1="312.10" x2="425.40" y2="312.10" stroke="#284a8c" stroke-width="0.9"/>
<rect x="413.90" y="306.70" width="2.60" height="2.60" fill="#fff" stroke="#284a8c" stroke-width="0.95"/>
<rect x="418.00" y="310.60" width="2.60" height="2.60" fill="#fff" stroke="#284a8c" stroke-width="0.95"/>
<rect x="422.60" y="310.80" width="2.60" height="2.60" fill="#fff" stroke="#284a8c" stroke-width="0.95"/>
<rect x="411.90" y="315.80" width="2.60" height="2.60" fill="#fff" stroke="#284a8c" stroke-width="0.95"/>
<rect x="416.40" y="318.00" width="2.60" height="2.60" fill="#fff" stroke="#284a8c" stroke-width="0.95"/>
<rect x="420.20" y="319.50" width="2.60" height="2.60" fill="#fff" stroke="#284a8c" stroke-width="0.95"/>
<rect x="424.20" y="317.80" width="2.60" height="2.60" fill="#fff" stroke="#284a8c" stroke-width="0.95"/>
<rect x="414.00" y="321.60" width="2.60" height="2.60" fill="#fff" stroke="#284a8c" stroke-width="0.95"/>
<rect x="418.20" y="321.10" width="2.60" height="2.60" fill="#fff" stroke="#284a8c" stroke-width="0.95"/>
<rect x="422.40" y="321.60" width="2.60" height="2.60" fill="#fff" stroke="#284a8c" stroke-width="0.95"/>
<rect x="418.20" y="325.10" width="2.60" height="2.60" fill="#fff" stroke="#284a8c" stroke-width="0.95"/>
<line x1="489.70" y1="275.70" x2="489.70" y2="320.30" stroke="#4f2274" stroke-width="0.9"/>
<line x1="483.60" y1="275.70" x2="495.40" y2="275.70" stroke="#4f2274" stroke-width="1.0"/>
<line x1="483.60" y1="320.30" x2="495.40" y2="320.30" stroke="#4f2274" stroke-width="1.0"/>
<polygon points="489.60,255.85 491.26,258.83 487.94,258.83" fill="#fff" stroke="#4f2274" stroke-width="1.0" stroke-linejoin="round"/>
<polygon points="489.60,270.15 491.26,273.12 487.94,273.12" fill="#fff" stroke="#4f2274" stroke-width="1.0" stroke-linejoin="round"/>
<polygon points="489.60,295.75 491.26,298.73 487.94,298.73" fill="#fff" stroke="#4f2274" stroke-width="1.0" stroke-linejoin="round"/>
<polygon points="488.30,303.75 489.96,306.73 486.64,306.73" fill="#fff" stroke="#4f2274" stroke-width="1.0" stroke-linejoin="round"/>
<polygon points="490.20,305.25 491.86,308.23 488.54,308.23" fill="#fff" stroke="#4f2274" stroke-width="1.0" stroke-linejoin="round"/>
<polygon points="487.30,306.25 488.96,309.23 485.64,309.23" fill="#fff" stroke="#4f2274" stroke-width="1.0" stroke-linejoin="round"/>
<polygon points="491.50,308.75 493.16,311.73 489.84,311.73" fill="#fff" stroke="#4f2274" stroke-width="1.0" stroke-linejoin="round"/>
<polygon points="488.30,316.35 489.96,319.33 486.64,319.33" fill="#fff" stroke="#4f2274" stroke-width="1.0" stroke-linejoin="round"/>
<polygon points="491.50,315.75 493.16,318.73 489.84,318.73" fill="#fff" stroke="#4f2274" stroke-width="1.0" stroke-linejoin="round"/>
<polygon points="486.90,317.65 488.56,320.62 485.24,320.62" fill="#fff" stroke="#4f2274" stroke-width="1.0" stroke-linejoin="round"/>
<text x="384.90" y="346.40" font-size="8.0" text-anchor="middle" font-weight="normal" fill="#1c1c1c" stroke="#1c1c1c" stroke-width="0.12" textLength="17.20" lengthAdjust="spacingAndGlyphs">LMC</text>
<text x="420.00" y="346.40" font-size="8.0" text-anchor="middle" font-weight="normal" fill="#1c1c1c" stroke="#1c1c1c" stroke-width="0.12" textLength="10.70" lengthAdjust="spacingAndGlyphs">Alt.</text>
<text x="454.50" y="346.40" font-size="8.0" text-anchor="middle" font-weight="normal" fill="#1c1c1c" stroke="#1c1c1c" stroke-width="0.12" textLength="23.90" lengthAdjust="spacingAndGlyphs">DPWY</text>
<text x="489.70" y="346.40" font-size="8.0" text-anchor="middle" font-weight="normal" fill="#1c1c1c" stroke="#1c1c1c" stroke-width="0.12" textLength="24.20" lengthAdjust="spacingAndGlyphs">DPWY</text>
<text x="419.50" y="355.70" font-size="8.0" text-anchor="middle" font-weight="normal" fill="#1c1c1c" stroke="#1c1c1c" stroke-width="0.12" textLength="14.80" lengthAdjust="spacingAndGlyphs">mb1</text>
<text x="454.30" y="355.70" font-size="8.0" text-anchor="middle" font-weight="normal" fill="#1c1c1c" stroke="#1c1c1c" stroke-width="0.12" textLength="14.60" lengthAdjust="spacingAndGlyphs">mb1</text>
<text x="489.70" y="355.70" font-size="8.0" text-anchor="middle" font-weight="normal" fill="#1c1c1c" stroke="#1c1c1c" stroke-width="0.12" textLength="21.60" lengthAdjust="spacingAndGlyphs">CD21</text>
</svg>
</body></html>
